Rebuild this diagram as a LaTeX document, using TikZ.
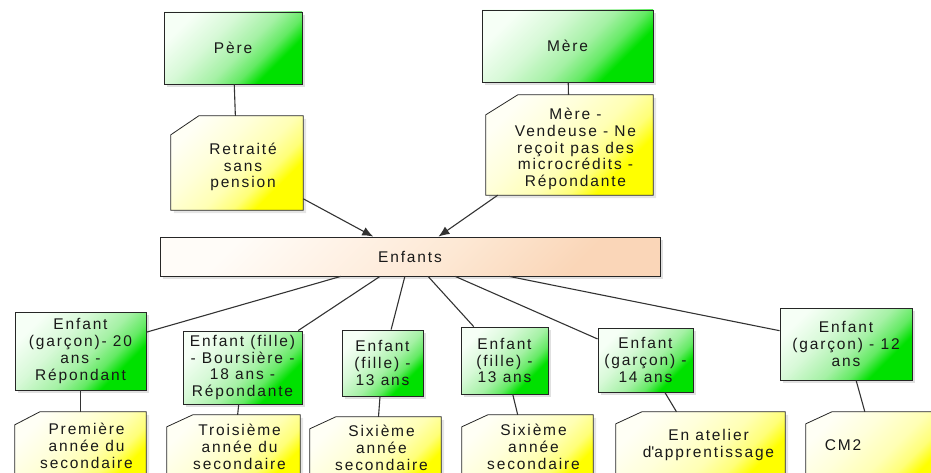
\documentclass[tikz,border=0pt]{standalone}
\usepackage{fontspec}
\setmainfont{Liberation Sans}[LetterSpace=12]
\usetikzlibrary{arrows.meta,shadows,backgrounds}
\definecolor{edgecol}{HTML}{333333}
\pgfdeclareverticalshading{gsh}{100bp}{color(0bp)=(rgb,255:red,0;green,225;blue,0); color(30bp)=(rgb,255:red,0;green,225;blue,0); color(37bp)=(rgb,255:red,100;green,234;blue,100); color(46bp)=(rgb,255:red,165;green,241;blue,165); color(60bp)=(rgb,255:red,215;green,249;blue,215); color(75bp)=(rgb,255:red,246;green,255;blue,246); color(100bp)=(rgb,255:red,246;green,255;blue,246)}
\pgfdeclareverticalshading{ysh}{100bp}{color(0bp)=(rgb,255:red,255;green,255;blue,0); color(30bp)=(rgb,255:red,255;green,255;blue,0); color(37bp)=(rgb,255:red,255;green,255;blue,120); color(46bp)=(rgb,255:red,255;green,255;blue,180); color(60bp)=(rgb,255:red,255;green,255;blue,218); color(75bp)=(rgb,255:red,255;green,255;blue,245); color(100bp)=(rgb,255:red,255;green,255;blue,245)}
\pgfdeclareverticalshading{psh}{100bp}{color(0bp)=(rgb,255:red,250;green,214;blue,184); color(27bp)=(rgb,255:red,250;green,214;blue,184); color(45bp)=(rgb,255:red,253;green,232;blue,212); color(62bp)=(rgb,255:red,255;green,243;blue,232); color(75bp)=(rgb,255:red,255;green,252;blue,248); color(100bp)=(rgb,255:red,255;green,252;blue,248)}
\newcommand{\drawnote}[3]{%
  \fill[black,opacity=0.10] ([shift={(#2pt+3pt,-3pt)}]#1.north west) -- ([shift={(3pt,-3pt)}]#1.north east) -- ([shift={(3pt,-3pt)}]#1.south east) -- ([shift={(3pt,-3pt)}]#1.south west) -- ([shift={(3pt,-#3pt-3pt)}]#1.north west) -- cycle;
  \shade[draw=black!85, line width=0.8pt, shading=ysh, shading angle=45] ([xshift=#2pt]#1.north west) -- (#1.north east) -- (#1.south east) -- (#1.south west) -- ([yshift=-#3pt]#1.north west) -- cycle;
}
\tikzset{
  every node/.style={font=\fontsize{15.5}{16.7}\selectfont, text=black!90},
  gbox/.style={draw=black!85, line width=0.8pt, shade, shading=gsh, shading angle=45, align=center, inner sep=2pt, drop shadow={shadow xshift=3pt, shadow yshift=-3pt, opacity=0.12, fill=black}},
  pbox/.style={draw=black!85, line width=0.8pt, shade, shading=psh, shading angle=45, align=center, inner sep=2pt, drop shadow={shadow xshift=3pt, shadow yshift=-3pt, opacity=0.12, fill=black}},
  notebox/.style={inner sep=0pt},
  ntext/.style={align=center, inner sep=0pt},
  conn/.style={draw=edgecol, line width=1.1pt},
  arr/.style={conn, -{Latex[length=11pt,width=9pt]}}
}
\begin{document}
\begin{tikzpicture}[x=1pt,y=-1pt]
\useasboundingbox (0,0) rectangle (931,473);
\clip (0,0) rectangle (931,473);
% top
\node[gbox, minimum width=138pt, minimum height=72pt] (pere) at (233,48) {Père};
\node[gbox, minimum width=171pt, minimum height=72pt] (mere) at (567.5,46) {Mère};
\node[notebox, minimum width=132pt, minimum height=94pt, label={[ntext, xshift=6pt, yshift=-4pt]center:{Retraité\\sans\\pension}}] (r1) at (237,163) {};
\node[notebox, minimum width=167pt, minimum height=100pt, label={[ntext, xshift=6pt, yshift=-4pt]center:{Mère -\\Vendeuse - Ne\\reçoit pas des\\microcrédits -\\Répondante}}] (r2) at (569.5,145) {};
\node[pbox, minimum width=500pt, minimum height=39pt] (enf) at (410,256.5) {Enfants};
% children
\node[gbox, minimum width=131pt, minimum height=78pt] (c1) at (80.5,351) {Enfant\\(garçon)- 20\\ans -\\Répondant};
\node[gbox, minimum width=119pt, minimum height=73pt] (c2) at (242.5,367.5) {Enfant (fille)\\- Boursière -\\18 ans -\\Répondante};
\node[gbox, minimum width=81pt, minimum height=66pt] (c3) at (382.5,363) {Enfant\\(fille) -\\13 ans};
\node[gbox, minimum width=87pt, minimum height=67pt] (c4) at (504.5,360.5) {Enfant\\(fille) -\\13 ans};
\node[gbox, minimum width=95pt, minimum height=64pt] (c5) at (645.5,360) {Enfant\\(garçon) -\\14 ans};
\node[gbox, minimum width=132pt, minimum height=72pt] (c6) at (846,344) {Enfant\\(garçon) - 12\\ans};
% bottom notes
\node[notebox, minimum width=131pt, minimum height=80pt, label={[ntext, xshift=6pt, yshift=6pt]center:{Première\\année du\\secondaire}}] (n1) at (80.5,452) {};
\node[notebox, minimum width=133pt, minimum height=80pt, label={[ntext, xshift=6pt, yshift=8pt]center:{Troisième\\année du\\secondaire}}] (n2) at (233.5,455) {};
\node[notebox, minimum width=131pt, minimum height=80pt, label={[ntext, xshift=6pt, yshift=9pt]center:{Sixième\\année\\secondaire}}] (n3) at (375.5,457) {};
\node[notebox, minimum width=131pt, minimum height=80pt, label={[ntext, xshift=6pt, yshift=8pt]center:{Sixième\\année\\secondaire}}] (n4) at (527.5,455) {};
\node[notebox, minimum width=169pt, minimum height=80pt, label={[ntext, xshift=8pt, yshift=7pt]center:{En atelier\\d\textquotesingle apprentissage}}] (n5) at (700.5,452) {};
\node[notebox, minimum width=140pt, minimum height=80pt, label={[ntext, xshift=-33pt, yshift=7pt]center:{CM2}}] (n6) at (876,452) {};
% note shapes
\begin{pgfonlayer}{background}
\clip (0,0) rectangle (931,473);
\drawnote{r1}{28}{19}
\drawnote{r2}{32}{20}
\drawnote{n1}{25}{13}
\drawnote{n2}{26}{12}
\drawnote{n3}{26}{12}
\drawnote{n4}{26}{12}
\drawnote{n5}{26}{12}
\drawnote{n6}{26}{12}
\end{pgfonlayer}
% connectors
\draw[conn] (pere) -- (r1);
\draw[conn] (mere) -- (r2);
\draw[arr] (r1) -- (enf);
\draw[arr] (r2) -- (enf);
\foreach \c in {c1,c2,c3,c4,c5,c6} {\draw[conn] (enf) -- (\c);}
\draw[conn] (c1) -- (n1);
\draw[conn] (c2) -- (n2);
\draw[conn] (c3) -- (n3);
\draw[conn] (c4) -- (n4);
\draw[conn] (c5) -- (n5);
\draw[conn] (c6) -- (n6);
\end{tikzpicture}
\end{document}
